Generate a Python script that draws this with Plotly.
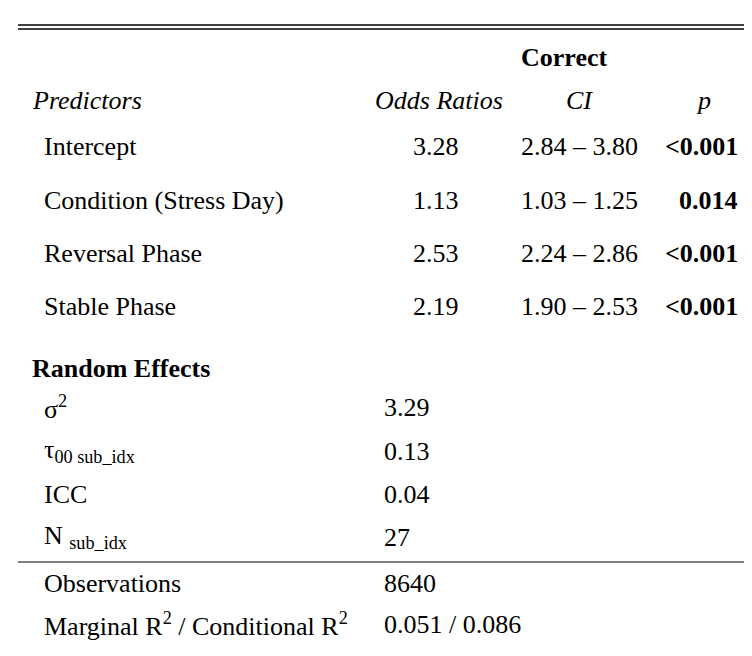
import plotly.graph_objects as go

predictors = ["Intercept", "Condition (Stress Day)", "Reversal Phase", "Stable Phase"]
odds_ratios = ["3.28", "1.13", "2.53", "2.19"]
ci = ["2.84 – 3.80", "1.03 – 1.25", "2.24 – 2.86", "1.90 – 2.53"]
p_values = ["<0.001", "0.014", "<0.001", "<0.001"]

random_labels = ["σ<sup>2</sup>", "τ<sub>00 sub_idx</sub>", "ICC", "N <sub>sub_idx</sub>"]
random_values = ["3.29", "0.13", "0.04", "27"]

fit_labels = ["Observations", "Marginal R<sup>2</sup> / Conditional R<sup>2</sup>"]
fit_values = ["8640", "0.051 / 0.086"]

FONT = "Liberation Serif, Times New Roman, serif"
SIZE = 26

fig = go.Figure()

def txt(x, y, s, anchor="left", bold=False, italic=False, size=SIZE):
    if bold:
        s = f"<b>{s}</b>"
    if italic:
        s = f"<i>{s}</i>"
    fig.add_annotation(x=x, y=y, text=s, showarrow=False, xanchor=anchor,
                       yanchor="middle", font=dict(family=FONT, size=size, color="black"))

# header
txt(546, 40, "Correct", "center", bold=True)
txt(12, 83, "Predictors", italic=True)
txt(421, 83, "Odds Ratios", "center", italic=True)
txt(561, 83, "CI", "center", italic=True)
txt(685, 83, "p", "center", italic=True)

row_y = [129, 183, 236, 289]
for y, name, orv, c, p in zip(row_y, predictors, odds_ratios, ci, p_values):
    txt(24, y, name)
    txt(443, y, orv, "right")
    txt(561, y, c, "center")
    txt(722, y, p.replace("<", "&lt;"), "right", bold=True)

txt(12, 351, "Random Effects", bold=True)
for y, lab, val in zip([390, 434, 477, 520], random_labels, random_values):
    txt(24, y, lab)
    txt(364, y, val)

for y, lab, val in zip([566, 607], fit_labels, fit_values):
    txt(24, y, lab)
    txt(364, y, val)

# background and rules
fig.add_shape(type="rect", x0=-20, x1=740, y0=-20, y1=640, fillcolor="white",
              line=dict(width=0), layer="below")
fig.add_shape(type="line", x0=0, x1=738, y0=8, y1=8, line=dict(color="black", width=1.5))
fig.add_shape(type="line", x0=0, x1=738, y0=12, y1=12, line=dict(color="black", width=1.5))
fig.add_shape(type="line", x0=0, x1=738, y0=545, y1=545, line=dict(color="black", width=1))

fig.update_xaxes(range=[-10, 742], visible=False, fixedrange=True)
fig.update_yaxes(range=[647, -9], visible=False, fixedrange=True)
fig.update_layout(width=752, height=656, margin=dict(l=0, r=0, t=0, b=0),
                  paper_bgcolor="#f3f3f3", plot_bgcolor="#f3f3f3", showlegend=False)

fig.write_html("out.html")
